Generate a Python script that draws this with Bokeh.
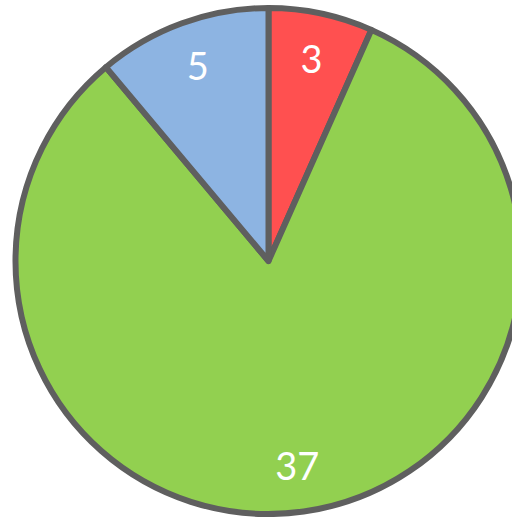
import numpy as np
from bokeh.plotting import figure
from bokeh.models import ColumnDataSource, Range1d
from bokeh.core.properties import value
from bokeh.embed import file_html
from bokeh.resources import INLINE

# ---- data ----
categories = ["A", "B", "C"]
values = [3, 37, 5]
colors = ["#FF5050", "#92D050", "#8DB4E2"]
labels = ["3", "37", "5"]

# ---- layout ----
W, H = 512, 517
cx, cy = 268, 260.5          # pie centre in frame pixels (from left / top)
R = 253                      # radius of the outline stroke
LABEL_R = 207

vals = np.array(values, dtype=float)
frac = vals / vals.sum()
cum_after = np.cumsum(frac) * 2 * np.pi
cum_before = cum_after - frac * 2 * np.pi
start = np.pi / 2 - cum_after
end = np.pi / 2 - cum_before
mid = (start + end) / 2

src = ColumnDataSource(dict(
    cat=categories, start=start, end=end, color=colors,
    lx=LABEL_R * np.cos(mid), ly=LABEL_R * np.sin(mid), label=labels,
))

p = figure(width=W, height=H, output_backend="svg", toolbar_location=None,
           x_range=Range1d(-cx, W - cx), y_range=Range1d(-(H - cy), cy),
           min_border=0, outline_line_color=None, background_fill_color="white",
           border_fill_color="white")
p.axis.visible = False
p.grid.visible = False

p.wedge(x=0, y=0, radius=R, start_angle="start", end_angle="end",
        direction="anticlock", fill_color="color", line_color="#5F5F5F",
        line_width=6, line_join="round", source=src)

p.text(x="lx", y="ly", text="label", source=src, text_color="white",
       text_font=value("Lato"), text_font_size="38px",
       text_align="center", text_baseline="middle")

open("out.html", "w").write(file_html(p, INLINE))
